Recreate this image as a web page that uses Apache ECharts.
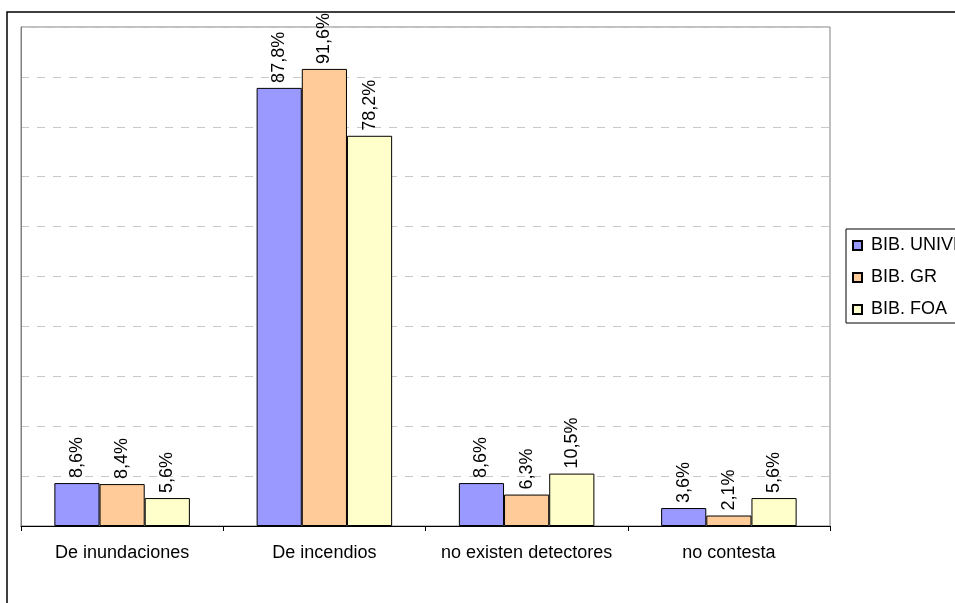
<!DOCTYPE html>
<html><head><meta charset="utf-8">
<script src="https://cdn.jsdelivr.net/npm/echarts@6/dist/echarts.min.js"></script>
<style>html,body{margin:0;padding:0;background:#fff}#c{width:955px;height:603px}</style>
</head><body><div id="c"></div>
<script>
var categories = ['De inundaciones', 'De incendios', 'no existen detectores', 'no contesta'];
var seriesNames = ['BIB. UNIVERSITARIAS', 'BIB. GR', 'BIB. FOA'];
var univValues = [8.6, 87.8, 8.6, 3.6];
var grValues = [8.4, 91.6, 6.3, 2.1];
var foaValues = [5.6, 78.2, 10.5, 5.6];
var colors = ['#9999FF', '#FFCC99', '#FFFFCC'];

var chart = echarts.init(document.getElementById('c'), null, {renderer: 'canvas'});
function mk(name, data, color) {
  return {
    name: name, type: 'bar', data: data, barGap: '0%', barCategoryGap: '33%',
    itemStyle: {color: color, borderColor: '#000', borderWidth: 1},
    label: {
      show: true, position: 'top', rotate: 90, align: 'left', verticalAlign: 'middle', distance: 5,
      fontFamily: 'Liberation Sans', fontSize: 18, color: '#000',
      formatter: function (p) { return String(p.value).replace('.', ',') + '%'; }
    }
  };
}
chart.setOption({
  animation: false,
  graphic: [{type: 'rect', shape: {x: 7, y: 12, width: 1100, height: 800}, style: {fill: 'none', stroke: '#000', lineWidth: 1.5}, z: 100}],
  grid: {left: 21, right: 125, top: 27, bottom: 77, show: true, borderColor: '#808080', borderWidth: 1},
  legend: {
    left: 846, top: 229, orient: 'vertical', itemWidth: 9, itemHeight: 9, itemGap: 11,
    borderColor: '#000', borderWidth: 1, padding: [6, 30, 3, 6],
    icon: 'rect', textStyle: {fontFamily: 'Liberation Sans', fontSize: 18, color: '#000', lineHeight: 21, padding: [0, 0, 0, 4]},
    data: seriesNames
  },
  xAxis: {
    type: 'category', data: categories,
    axisLine: {lineStyle: {color: '#000', width: 1}},
    axisTick: {show: true, length: 5, interval: 0, lineStyle: {color: '#000'}},
    axisLabel: {fontFamily: 'Liberation Sans', fontSize: 18, color: '#000', margin: 18, interval: 0}
  },
  yAxis: {
    type: 'value', min: 0, max: 100, interval: 10,
    axisLine: {show: true, lineStyle: {color: '#808080'}},
    axisTick: {show: false}, axisLabel: {show: false},
    splitLine: {lineStyle: {color: '#C8C8C8', type: [8, 8]}}
  },
  series: [mk(seriesNames[0], univValues, colors[0]), mk(seriesNames[1], grValues, colors[1]), mk(seriesNames[2], foaValues, colors[2])]
});
</script></body></html>
